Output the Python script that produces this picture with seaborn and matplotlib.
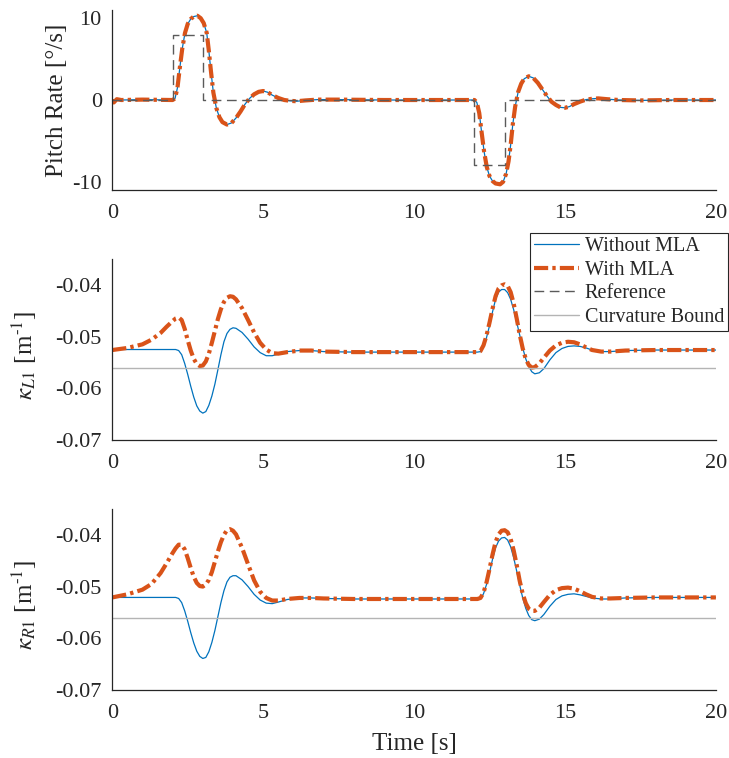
import numpy as np
import seaborn as sns
import matplotlib
matplotlib.use("Agg")
import matplotlib.pyplot as plt

# ---- data ----
time_ticks = [0, 5, 10, 15, 20]

t_pitch = [0.0, 0.05, 0.15, 0.3, 1.0, 2.0,
           2.08, 2.16, 2.24, 2.32, 2.41, 2.5, 2.6, 2.7, 2.82, 2.93,
           3.03, 3.13, 3.2, 3.27, 3.35, 3.45, 3.55, 3.65, 3.8, 3.95,
           4.1, 4.25, 4.4, 4.55, 4.7, 4.85, 5.0, 5.15, 5.3, 5.5,
           5.7, 5.9, 6.1, 6.4, 6.8, 7.5, 9.0, 12.0,
           12.08, 12.16, 12.24, 12.32, 12.41, 12.5, 12.6, 12.7, 12.85, 12.95,
           13.05, 13.13, 13.2, 13.27, 13.35, 13.45, 13.55, 13.65, 13.8, 13.95,
           14.1, 14.25, 14.4, 14.55, 14.7, 14.85, 15.0, 15.15, 15.3, 15.5,
           15.7, 15.9, 16.1, 16.4, 16.8, 17.5, 18.5, 20.0]
pitch_resp = [0.0, -0.3, 0.1, 0.0, 0.05, 0.0,
              0.2, 1.5, 4.0, 6.3, 8.2, 9.3, 9.9, 10.2, 10.3, 10.0,
              9.4, 8.2, 6.0, 3.5, 0.9, -1.0, -2.1, -2.7, -3.0, -2.8,
              -2.2, -1.4, -0.5, 0.2, 0.7, 1.0, 1.1, 0.95, 0.6, 0.25,
              0.0, -0.1, -0.15, -0.05, 0.05, 0.05, 0.0, 0.0,
              -0.3, -1.6, -4.0, -6.3, -8.2, -9.3, -9.9, -10.2, -10.3, -10.0,
              -9.0, -7.5, -5.5, -3.0, -0.8, 1.0, 2.0, 2.6, 2.9, 2.7,
              2.1, 1.3, 0.5, -0.2, -0.6, -0.9, -0.95, -0.8, -0.5, -0.2,
              0.05, 0.15, 0.2, 0.1, 0.0, -0.05, 0.0, 0.0]

t_ref = [0, 2, 2, 3, 3, 12, 12, 13, 13, 20]
pitch_ref = [0, 0, 8, 8, 0, 0, -8, -8, 0, 0]

t_kappa = [0.0, 0.5, 1.0, 1.3, 1.6, 1.8, 2.0,
           2.1, 2.2, 2.3, 2.4, 2.5, 2.6, 2.7, 2.8, 2.9, 3.0,
           3.1, 3.2, 3.3, 3.4, 3.5, 3.6, 3.7, 3.8, 3.9, 4.0, 4.1,
           4.3, 4.5, 4.7, 4.9, 5.1, 5.3, 5.5, 5.8, 6.2, 6.6, 7.0, 8.0, 10.0,
           12.1, 12.2, 12.3, 12.4, 12.5, 12.6, 12.7, 12.8, 12.9, 13.0,
           13.1, 13.2, 13.3, 13.4, 13.5, 13.6, 13.7, 13.8, 13.9, 14.0,
           14.15, 14.3, 14.5, 14.7, 14.9, 15.1, 15.3, 15.5, 15.7, 15.9,
           16.2, 16.5, 17.0, 18.0, 20.0]

kL1_without = [-0.0525, -0.0525, -0.0525, -0.0525, -0.0525, -0.0525, -0.0525,
               -0.0525, -0.0527, -0.0535, -0.0552, -0.0573, -0.0596, -0.0617, -0.0634, -0.0644, -0.0648,
               -0.0645, -0.0633, -0.0615, -0.0592, -0.0564, -0.0535, -0.0510, -0.0494, -0.0486, -0.0483, -0.0484,
               -0.0492, -0.0505, -0.0520, -0.0531, -0.0537, -0.0537, -0.0534, -0.0529, -0.0527, -0.0527, -0.0529, -0.0530, -0.0530,
               -0.0530, -0.0529, -0.0520, -0.0502, -0.0479, -0.0452, -0.0428, -0.0414, -0.0409, -0.0409,
               -0.0415, -0.0428, -0.0448, -0.0472, -0.0497, -0.0522, -0.0543, -0.0558, -0.0568, -0.0572,
               -0.0570, -0.0562, -0.0545, -0.0531, -0.0523, -0.0519, -0.0518, -0.0519, -0.0522, -0.0526,
               -0.0529, -0.0529, -0.0527, -0.0526, -0.0526]
kL1_with = [-0.0526, -0.0522, -0.0515, -0.0506, -0.0493, -0.0481, -0.0470,
            -0.0465, -0.0463, -0.0468, -0.0485, -0.0507, -0.0527, -0.0543, -0.0553, -0.0557, -0.0556,
            -0.0548, -0.0533, -0.0512, -0.0489, -0.0466, -0.0447, -0.0433, -0.0425, -0.0422, -0.0423, -0.0428,
            -0.0445, -0.0468, -0.0492, -0.0512, -0.0525, -0.0532, -0.0533, -0.0530, -0.0527, -0.0527, -0.0529, -0.0530, -0.0530,
            -0.0530, -0.0528, -0.0517, -0.0498, -0.0473, -0.0446, -0.0422, -0.0407, -0.0401, -0.0399,
            -0.0402, -0.0414, -0.0436, -0.0465, -0.0496, -0.0523, -0.0543, -0.0555, -0.0560, -0.0559,
            -0.0552, -0.0541, -0.0527, -0.0517, -0.0512, -0.0510, -0.0511, -0.0515, -0.0521, -0.0526,
            -0.0529, -0.0529, -0.0527, -0.0526, -0.0526]

kR1_without = [-0.0521, -0.0521, -0.0521, -0.0521, -0.0521, -0.0521, -0.0521,
               -0.0521, -0.0523, -0.0531, -0.0547, -0.0567, -0.0589, -0.0609, -0.0625, -0.0635, -0.0639,
               -0.0637, -0.0626, -0.0608, -0.0585, -0.0558, -0.0531, -0.0508, -0.0491, -0.0482, -0.0479, -0.0479,
               -0.0487, -0.0500, -0.0515, -0.0526, -0.0532, -0.0533, -0.0530, -0.0525, -0.0522, -0.0522, -0.0523, -0.0524, -0.0524,
               -0.0524, -0.0523, -0.0514, -0.0496, -0.0473, -0.0447, -0.0425, -0.0412, -0.0406, -0.0405,
               -0.0410, -0.0423, -0.0444, -0.0470, -0.0497, -0.0522, -0.0542, -0.0556, -0.0564, -0.0566,
               -0.0563, -0.0554, -0.0538, -0.0525, -0.0518, -0.0515, -0.0514, -0.0516, -0.0519, -0.0522,
               -0.0524, -0.0524, -0.0522, -0.0521, -0.0521]
kR1_with = [-0.0521, -0.0515, -0.0506, -0.0495, -0.0474, -0.0455, -0.0435,
            -0.0426, -0.0419, -0.0419, -0.0428, -0.0445, -0.0464, -0.0481, -0.0493, -0.0499, -0.0500,
            -0.0496, -0.0487, -0.0472, -0.0452, -0.0432, -0.0414, -0.0400, -0.0391, -0.0389, -0.0392, -0.0399,
            -0.0425, -0.0457, -0.0488, -0.0510, -0.0522, -0.0527, -0.0527, -0.0524, -0.0522, -0.0522, -0.0523, -0.0524, -0.0524,
            -0.0524, -0.0522, -0.0512, -0.0492, -0.0466, -0.0438, -0.0414, -0.0399, -0.0392, -0.0391,
            -0.0395, -0.0408, -0.0430, -0.0458, -0.0489, -0.0514, -0.0532, -0.0543, -0.0547, -0.0547,
            -0.0541, -0.0530, -0.0516, -0.0507, -0.0503, -0.0502, -0.0504, -0.0509, -0.0515, -0.0520,
            -0.0523, -0.0523, -0.0522, -0.0521, -0.0521]

t_bound = [0, 20]
curvature_bound = [-0.056, -0.056]

kappa_ticks = [-0.07, -0.06, -0.05, -0.04]
kappa_tick_labels = ["-0.07", "-0.06", "-0.05", "-0.04"]

# ---- style ----
sns.set_theme(style="white")
plt.rcParams["font.family"] = ["Liberation Serif", "DejaVu Serif"]
plt.rcParams["mathtext.fontset"] = "stix"
plt.rcParams["axes.unicode_minus"] = False

BLUE = "#0072BD"
ORANGE = "#D95319"
REF_GRAY = "#5a5a5a"
BOUND_GRAY = "#b4b4b4"
AX_COLOR = "#262626"
TICK_FS = 16
LEGEND_FS = 14.5
LABEL_FS = 18

fig = plt.figure(figsize=(7.29, 7.58), dpi=100)
ax_top = fig.add_axes([0.154, 0.7493, 0.828, 0.2375])
ax_mid = fig.add_axes([0.154, 0.4195, 0.828, 0.2388])
ax_bot = fig.add_axes([0.154, 0.0897, 0.828, 0.2388])

dashdot = (0, (3.4, 1.0, 0.8, 1.0))


def style_axes(ax):
    sns.despine(ax=ax)
    for side in ("left", "bottom"):
        ax.spines[side].set_color(AX_COLOR)
        ax.spines[side].set_linewidth(0.9)
    ax.tick_params(direction="in", length=5, width=0.8, colors=AX_COLOR,
                   labelsize=TICK_FS, labelcolor=AX_COLOR)
    ax.tick_params(axis="x", pad=10)
    ax.tick_params(axis="y", pad=7.5)
    ax.set_xlim(0, 20)
    ax.set_xticks(time_ticks)
    ax.set_xlabel("")
    ax.set_ylabel("")


def draw_kappa(ax, without, with_mla, ylabel):
    sns.lineplot(x=t_kappa, y=without, ax=ax, color=BLUE, linewidth=0.9,
                 estimator=None, sort=False, label="Without MLA")
    sns.lineplot(x=t_kappa, y=with_mla, ax=ax, color=ORANGE, linewidth=3.0,
                 linestyle=dashdot, estimator=None, sort=False, label="With MLA")
    sns.lineplot(x=t_bound, y=curvature_bound, ax=ax, color=BOUND_GRAY,
                 linewidth=1.0, estimator=None, sort=False, label="Curvature Bound")
    style_axes(ax)
    ax.set_ylim(-0.07, -0.035)
    ax.set_yticks(kappa_ticks)
    ax.set_yticklabels(kappa_tick_labels)
    ax.set_ylabel(ylabel, fontsize=LABEL_FS, color=AX_COLOR)
    ax.yaxis.set_label_coords(-0.122, 0.47)


# pitch rate
sns.lineplot(x=t_pitch, y=pitch_resp, ax=ax_top, color=BLUE, linewidth=0.9,
             estimator=None, sort=False)
sns.lineplot(x=t_pitch, y=pitch_resp, ax=ax_top, color=ORANGE, linewidth=3.0,
             linestyle=dashdot, estimator=None, sort=False)
sns.lineplot(x=t_ref, y=pitch_ref, ax=ax_top, color=REF_GRAY, linewidth=1.0,
             linestyle=(0, (7, 4)), estimator=None, sort=False)
style_axes(ax_top)
ax_top.set_ylim(-11, 11)
ax_top.set_yticks([-10, 0, 10])
ax_top.set_ylabel("Pitch Rate [°/s]", fontsize=LABEL_FS, color=AX_COLOR)
ax_top.yaxis.set_label_coords(-0.073, 0.5)

draw_kappa(ax_mid, kL1_without, kL1_with, r"$\kappa_{L1}$ [m$^{\text{-}1}$]")
draw_kappa(ax_bot, kR1_without, kR1_with, r"$\kappa_{R1}$ [m$^{\text{-}1}$]")
ax_bot.set_xlabel("Time [s]", fontsize=LABEL_FS, color=AX_COLOR)
ax_bot.xaxis.set_label_coords(0.5, -0.24)

# legend (reference line comes from the top panel)
lines = ax_mid.get_lines()
ref_line = ax_top.get_lines()[2]
for a in (ax_mid, ax_bot):
    if a.get_legend() is not None:
        a.get_legend().remove()
leg = ax_mid.legend([lines[0], lines[1], ref_line, lines[2]],
                    ["Without MLA", "With MLA", "Reference", "Curvature Bound"],
                    loc="upper right", bbox_to_anchor=(1.02, 1.144),
                    fontsize=LEGEND_FS, frameon=True, fancybox=False,
                    framealpha=1, edgecolor=AX_COLOR, borderpad=0.2,
                    labelspacing=0.22, handlelength=2.2, handletextpad=0.3,
                    borderaxespad=0)
leg.get_frame().set_linewidth(0.8)

fig.savefig("out.png", dpi=100)
